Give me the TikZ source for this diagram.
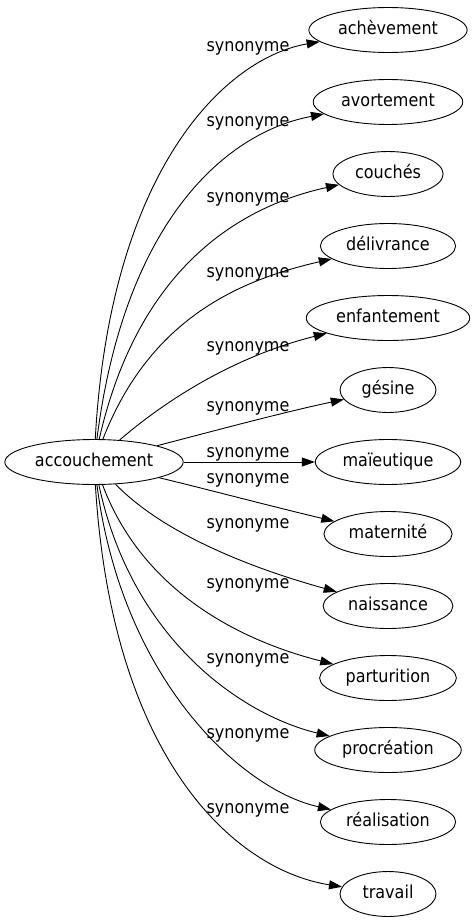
\documentclass[tikz,border=0pt]{standalone}
\usepackage{fontspec}
\setmainfont{DejaVu Sans}[FakeStretch=0.9]
\usetikzlibrary{arrows.meta}
\usetikzlibrary{shapes.geometric}

\begin{document}
\begin{tikzpicture}[x=1pt,y=1pt,->,>={Triangle[length=13pt,width=9pt]},
				line width=0.9pt,font=\fontsize{17.8}{20}\selectfont]
				\tikzstyle{word}=[draw,ellipse,inner xsep=6pt,inner ysep=7pt,
					text height=13.4pt,text depth=4.4pt,minimum width=96pt]
				\tikzstyle{syn}=[inner sep=0pt,anchor=base]
				\useasboundingbox (0,0) rectangle (475,-923);
				
				\node[word,inner xsep=4pt] (acc) at (94,-462) {accouchement};
				\node[word] (ach) at (388,-30)  {achèvement};
				\node[word] (avo) at (388,-102) {avortement};
				\node[word] (cou) at (388,-174) {couchés};
				\node[word] (del) at (388,-246) {délivrance};
				\node[word] (enf) at (388,-318) {enfantement};
				\node[word] (ges) at (388,-390) {gésine};
				\node[word] (mai) at (388,-462) {maïeutique};
				\node[word] (mat) at (388,-534) {maternité};
				\node[word] (nai) at (388,-606) {naissance};
				\node[word] (par) at (388,-678) {parturition};
				\node[word] (pro) at (388,-750) {procréation};
				\node[word] (rea) at (388,-822) {réalisation};
				\node[word] (tra) at (388,-894) {travail};
				
				% labels
				\node[syn] (l1)  at (248,-52)  {synonyme};
				\node[syn] (l2)  at (248,-127) {synonyme};
				\node[syn] (l3)  at (248,-202) {synonyme};
				\node[syn] (l4)  at (248,-277) {synonyme};
				\node[syn] (l5)  at (248,-351) {synonyme};
				\node[syn] (l6)  at (248,-411) {synonyme};
				\node[syn] (l7)  at (248,-457) {synonyme};
				\node[syn] (l8)  at (248,-483) {synonyme};
				\node[syn] (l9)  at (248,-528) {synonyme};
				\node[syn] (l10) at (248,-588) {synonyme};
				\node[syn] (l11) at (248,-663) {synonyme};
				\node[syn] (l12) at (248,-738) {synonyme};
				\node[syn] (l13) at (248,-813) {synonyme};
				
				\draw (acc) .. controls (110,-170) and (225,-58) .. (ach);
				\draw (acc) .. controls (125,-218) and (228,-132) .. (avo);
				\draw (acc) .. controls (138,-269) and (238,-207) .. (cou);
				\draw (acc) .. controls (150,-318) and (240,-280) .. (del);
				\draw (acc) .. controls (172,-395) and (240,-355) .. (enf);
				\draw (acc) .. controls (210,-432) and (280,-413) .. (ges);
				\draw (acc) -- (mai);
				\draw (acc) .. controls (210,-490) and (270,-506) .. (mat);
				\draw (acc) .. controls (160,-530) and (240,-565) .. (nai);
				\draw (acc) .. controls (142,-590) and (238,-640) .. (par);
				\draw (acc) .. controls (132,-640) and (242,-715) .. (pro);
				\draw (acc) .. controls (122,-680) and (242,-790) .. (rea);
				\draw (acc) .. controls (112,-760) and (235,-870) .. (tra);
				\end{tikzpicture}
\end{document}
